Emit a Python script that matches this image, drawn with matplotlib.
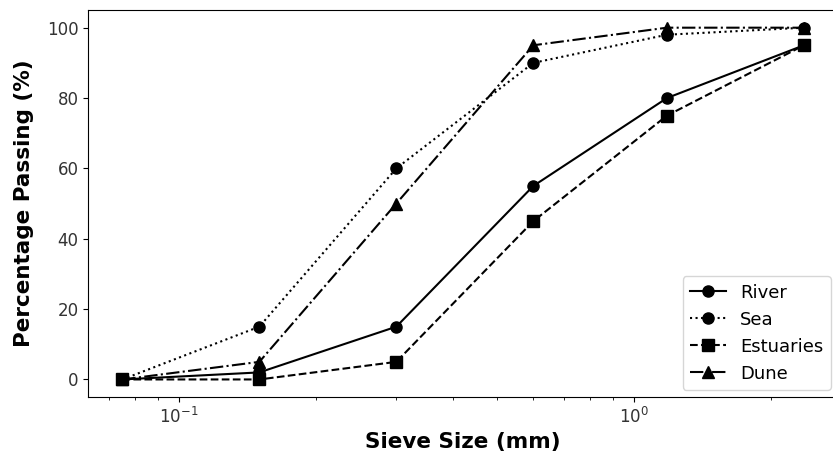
import matplotlib
matplotlib.use("Agg")
import matplotlib.pyplot as plt

# sieve sizes (mm) and percentage passing
sieve = [0.075, 0.15, 0.3, 0.6, 1.18, 2.36]
river = [0, 2, 15, 55, 80, 95]
sea = [0, 15, 60, 90, 98, 100]
estuaries = [0, 0, 5, 45, 75, 95]
dune = [0, 5, 50, 95, 100, 100]

fig = plt.figure(figsize=(8.33, 4.59), dpi=100)
# the right spine sits just past the image edge in the reference
ax = fig.add_axes([0.106, 0.135, 0.9, 0.843])

ax.plot(sieve, river, '-o', color='black', markersize=8, label='River')
ax.plot(sieve, sea, ':o', color='black', markersize=8, label='Sea')
ax.plot(sieve, estuaries, '--s', color='black', markersize=8, label='Estuaries')
ax.plot(sieve, dune, '-.^', color='black', markersize=8, label='Dune')

ax.set_xscale('log')
ax.set_xlabel('Sieve Size (mm)', fontsize=15.5, fontweight='bold')
ax.set_ylabel('Percentage Passing (%)', fontsize=15.5, fontweight='bold', labelpad=9)
ax.tick_params(labelsize=12, labelcolor='#333333')
ax.legend(loc='lower right', fontsize=13, borderaxespad=0.4)

fig.savefig('out.png', dpi=100)
